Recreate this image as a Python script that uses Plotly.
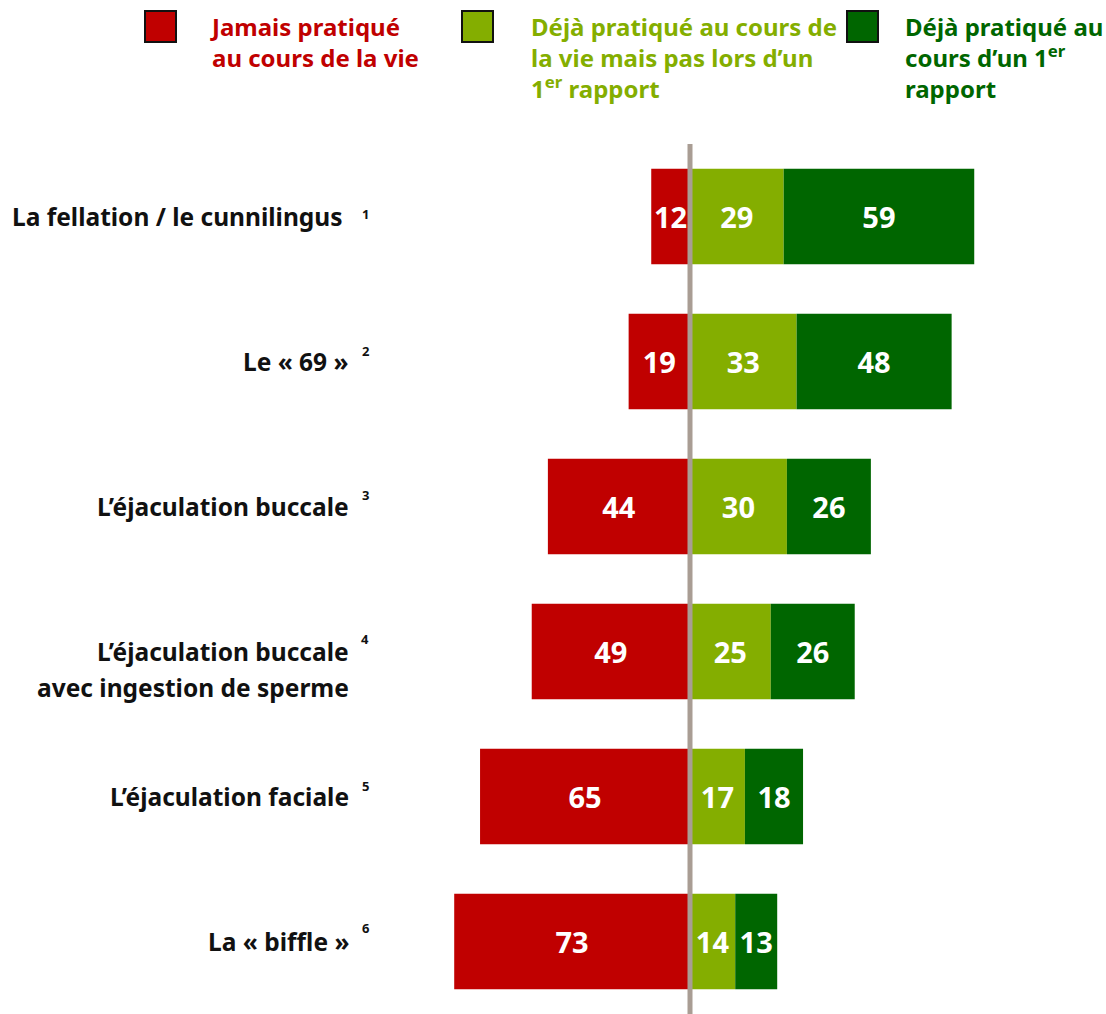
import plotly.graph_objects as go

# ---------------- data ----------------
categories = ["fellation", "soixante-neuf", "buccale", "ingestion", "faciale", "biffle"]
label_lines = [
    ["La fellation / le cunnilingus\u00a0"],
    ["Le « 69 »"],
    ["L’éjaculation buccale"],
    ["L’éjaculation buccale", "avec ingestion de sperme"],
    ["L’éjaculation faciale"],
    ["La « biffle »"],
]
footnotes = ["1", "2", "3", "4", "5", "6"]
never = [12, 19, 44, 49, 65, 73]
life_not_first = [29, 33, 30, 25, 17, 14]
first_time = [59, 48, 26, 26, 18, 13]

legend_names = [
    ["Jamais pratiqué", "au cours de la vie"],
    ["Déjà pratiqué au cours de", "la vie mais pas lors d’un", "1<sup>er</sup> rapport"],
    ["Déjà pratiqué au", "cours d’un 1<sup>er</sup>", "rapport"],
]

# ---------------- style ----------------
RED = "#C00000"
LIGHT = "#84AE00"
DARK = "#006600"
LINE = "#A99D94"
FONT = "Noto Sans"
W, H = 1106, 1014
L, R, T, B = 367, 93, 144, 0


def px_x(px):
    return (px - L) / (W - L - R)


def px_y(py):
    return (H - B - py) / (H - T - B)


fig = go.Figure()
common = dict(
    y=categories,
    orientation="h",
    width=0.66,
    textposition="inside",
    insidetextanchor="middle",
    textfont=dict(family=FONT, size=29, color="white", weight="bold"),
    hoverinfo="skip",
    showlegend=False,
)
fig.add_trace(go.Bar(x=[-v for v in never], text=[str(v) for v in never],
                     marker=dict(color=RED, line=dict(width=0)), **common))
fig.add_trace(go.Bar(x=life_not_first, text=[str(v) for v in life_not_first],
                     marker=dict(color=LIGHT, line=dict(width=0)), **common))
fig.add_trace(go.Bar(x=first_time, text=[str(v) for v in first_time],
                     marker=dict(color=DARK, line=dict(width=0)), **common))

annotations = []
sup_shift = [3, 11, 12, 13, 11, 14]
for cat, lines, fn, ss in zip(categories, label_lines, footnotes, sup_shift):
    for i, line in enumerate(lines):
        annotations.append(dict(
            x=px_x(351), xref="paper", xanchor="right",
            y=cat, yref="y", yanchor="middle", yshift=-36 * i,
            text=line, showarrow=False,
            font=dict(family=FONT, size=24.5, color="#111111", weight="bold"),
        ))
    annotations.append(dict(
        x=px_x(365), xref="paper", xanchor="center",
        y=cat, yref="y", yanchor="middle", yshift=ss,
        text=fn, showarrow=False,
        font=dict(family=FONT, size=13, color="#111111", weight="bold"),
    ))

# legend (custom)
shapes = []
legend_colors = [RED, LIGHT, DARK]
square_x = [145, 462, 847]
text_x = [208, 529, 903]
for names, col, sx, tx in zip(legend_names, legend_colors, square_x, text_x):
    shapes.append(dict(
        type="rect", xref="paper", yref="paper",
        x0=px_x(sx), x1=px_x(sx + 31), y0=px_y(42), y1=px_y(11),
        fillcolor=col, line=dict(color="#111111", width=2),
    ))
    annotations.append(dict(
        x=px_x(tx), xref="paper", xanchor="left",
        y=px_y(8), yref="paper", yanchor="top",
        text="<br>".join(names), showarrow=False, align="left",
        font=dict(family=FONT, size=24, color=col, weight="bold"),
    ))

# central vertical line
shapes.append(dict(
    type="line", xref="x", yref="paper", x0=0, x1=0, y0=0, y1=1,
    line=dict(color=LINE, width=5), layer="above",
))

fig.update_layout(
    width=W, height=H,
    margin=dict(l=L, r=R, t=T, b=B, pad=0),
    barmode="relative",
    plot_bgcolor="white",
    paper_bgcolor="white",
    xaxis=dict(range=[-100, 100], visible=False, fixedrange=True),
    yaxis=dict(type="category", range=[5.5, -0.5], visible=False, fixedrange=True),
    uniformtext=dict(minsize=29, mode="show"),
    annotations=annotations,
    shapes=shapes,
    font=dict(family=FONT),
    hovermode=False,
)

fig.write_html(
    "out.html",
    config={"displayModeBar": False},
    post_script="document.body.style.margin='0';document.body.style.overflow='hidden';",
)
